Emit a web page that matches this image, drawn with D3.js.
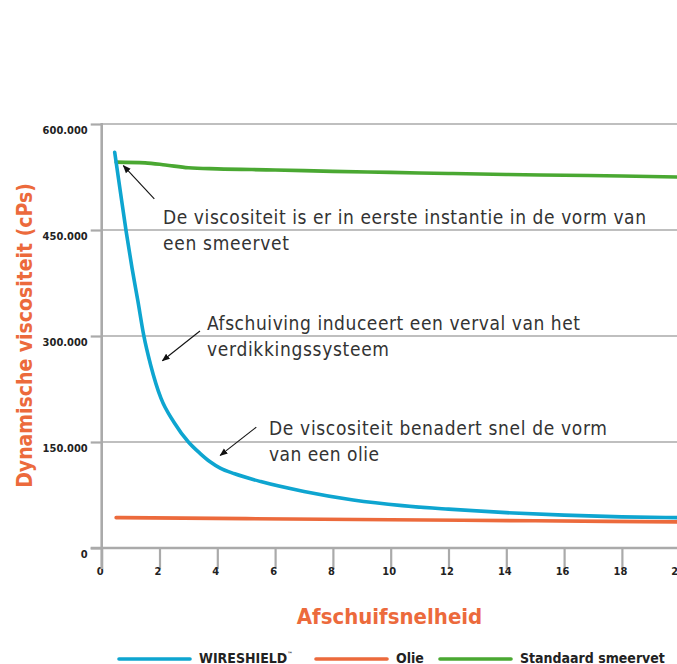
<!DOCTYPE html>
<html><head><meta charset="utf-8">
<script src="https://cdn.jsdelivr.net/npm/d3@7"></script>
<style>
html,body{margin:0;padding:0;background:#fff;}
svg{display:block;}
</style></head>
<body>
<script>
// ---- data ----
const xTicks = [0,2,4,6,8,10,12,14,16,18,20];
const yTicks = [0,150000,300000,450000,600000];
const yTickLabels = ["0","150.000","300.000","450.000","600.000"];
const seriesNames = ["WIRESHIELD","Olie","Standaard smeervet"];
const wireshieldX = [0.45,0.65,0.85,1.05,1.25,1.45,1.7,2.05,2.5,3.0,3.4,3.75,4.1,4.6,5.5,7,8.7,10.4,12,14,16,18,20];
const wireshieldY = [560000,503000,447000,396000,350000,302000,258000,212000,178000,150000,134000,122000,113000,105000,94000,80000,68000,60000,55000,50000,46500,44000,43000];
const olieX = [0.5,5,10,15,20];
const olieY = [43000,41500,40000,38500,37000];
const smeervetX = [0.5,1.5,2.2,3,4,6,8,10,12,14,16,18,20];
const smeervetY = [546000,545000,542000,538000,536500,535000,533000,531500,530000,528500,527500,526500,525000];
const annotations = [
  ["De viscositeit is er in eerste instantie in de vorm van","een smeervet"],
  ["Afschuiving induceert een verval van het","verdikkingssysteem"],
  ["De viscositeit benadert snel de vorm","van een olie"]
];

const W = 677, H = 664;
const colors = ["#0ea5d0","#ec6a3c","#4aa832"];
const grid = "#aaaaaa";
const orange = "#ec6a3c";
const FONT = "'DejaVu Sans Condensed','DejaVu Sans',sans-serif";

const svg = d3.select("body").append("svg").attr("width",W).attr("height",H);

const x = d3.scaleLinear().domain([0,20]).range([101.7,679.7]);
const y = d3.scaleLinear().domain([0,600000]).range([548,124]);

// gridlines
svg.append("g").selectAll("line").data(yTicks.slice(1)).join("line")
  .attr("x1",x(0)).attr("x2",W).attr("y1",d=>y(d)).attr("y2",d=>y(d))
  .attr("stroke",grid).attr("stroke-width",1.6);

// y axis
const yAxis = d3.axisLeft(y).tickValues(yTicks).tickSize(11).tickPadding(3)
  .tickFormat((d,i)=>yTickLabels[i]);
const gy = svg.append("g").attr("transform",`translate(${x(0)},0)`).call(yAxis);
gy.select(".domain").remove();
gy.selectAll(".tick line").attr("stroke",grid).attr("stroke-width",2.2);
gy.selectAll(".tick text").attr("font-family",FONT)
  .attr("font-weight","bold").attr("font-size",11).attr("fill","#222").attr("dy","0.85em");

// x axis
const xAxis = d3.axisBottom(x).tickValues(xTicks).tickSize(21).tickPadding(6).tickFormat(d3.format("d"));
const gx = svg.append("g").attr("transform",`translate(0,${y(0)})`).call(xAxis);
gx.select(".domain").remove();
gx.selectAll(".tick line").attr("stroke",grid).attr("stroke-width",2.2);
gx.selectAll(".tick text").attr("font-family",FONT).attr("dx","-2")
  .attr("font-weight","bold").attr("font-size",11).attr("fill","#222").attr("dy","0");

// axis lines
svg.append("line").attr("x1",x(0)).attr("x2",x(0)).attr("y1",y(600000)-1).attr("y2",y(0)+21)
  .attr("stroke",grid).attr("stroke-width",2.6);
svg.append("line").attr("x1",x(0)-11).attr("x2",W).attr("y1",y(0)).attr("y2",y(0))
  .attr("stroke",grid).attr("stroke-width",2.6);

// series
const line = d3.line().x(d=>x(d[0])).y(d=>y(d[1])).curve(d3.curveMonotoneX);
const series = [
  d3.zip(wireshieldX,wireshieldY),
  d3.zip(olieX,olieY),
  d3.zip(smeervetX,smeervetY)
];
[1,2,0].forEach(i=>{
  svg.append("path").datum(series[i]).attr("d",line)
    .attr("fill","none").attr("stroke",colors[i]).attr("stroke-width",3.6)
    .attr("stroke-linecap","round").attr("stroke-linejoin","round");
});

// arrows
const defs = svg.append("defs");
defs.append("marker").attr("id","ah").attr("viewBox","0 0 10 10").attr("refX",9).attr("refY",5)
  .attr("markerWidth",8).attr("markerHeight",8).attr("markerUnits","userSpaceOnUse").attr("orient","auto")
  .append("path").attr("d","M0,1 L10,5 L0,9 z").attr("fill","#111");

const annPos = [
  {tx:163, ty:224, w:[483,126], ax1:[x(1.82),y(494000)], ax2:[x(0.75),y(541000)]},
  {tx:207, ty:330, w:[373,182], ax1:[x(3.4),y(307000)], ax2:[x(2.1),y(265000)]},
  {tx:269, ty:435, w:[338,110], ax1:[x(5.35),y(171000)], ax2:[x(4.1),y(131000)]}
];
annotations.forEach((a,i)=>{
  const p = annPos[i];
  svg.append("line").attr("x1",p.ax1[0]).attr("y1",p.ax1[1]).attr("x2",p.ax2[0]).attr("y2",p.ax2[1])
    .attr("stroke","#111").attr("stroke-width",1.1).attr("marker-end","url(#ah)");
  a.forEach((l,j)=>svg.append("text").attr("x",p.tx).attr("y",p.ty+j*25.5)
    .attr("font-family",FONT).attr("font-size",19)
    .attr("fill","#333").attr("textLength",p.w[j]).attr("lengthAdjust","spacing").text(l));
});

// titles
svg.append("text").attr("transform",`translate(32,${(183+488)/2}) rotate(-90)`)
  .attr("text-anchor","middle").attr("font-family",FONT)
  .attr("font-weight","bold").attr("font-size",21).attr("fill",orange)
  .text("Dynamische viscositeit (cPs)");
svg.append("text").attr("x",(298+481)/2).attr("y",624).attr("text-anchor","middle")
  .attr("font-family",FONT)
  .attr("font-weight","bold").attr("font-size",22).attr("fill",orange).text("Afschuifsnelheid");

// legend
const legend = [
  {x1:119,x2:190,tx:199},
  {x1:316,x2:387,tx:396},
  {x1:440,x2:511,tx:520}
];
legend.forEach((l,i)=>{
  svg.append("line").attr("x1",l.x1).attr("x2",l.x2).attr("y1",659).attr("y2",659)
    .attr("stroke",colors[i]).attr("stroke-width",3.6).attr("stroke-linecap","round");
  const t = svg.append("text").attr("x",l.tx).attr("y",662.5)
    .attr("font-family",FONT)
    .attr("font-weight","bold").attr("font-size",14).attr("fill","#222").text(seriesNames[i]);
  if(i===0) t.append("tspan").attr("font-size",6).attr("dy",-7).text("™");
});
</script>
</body></html>
